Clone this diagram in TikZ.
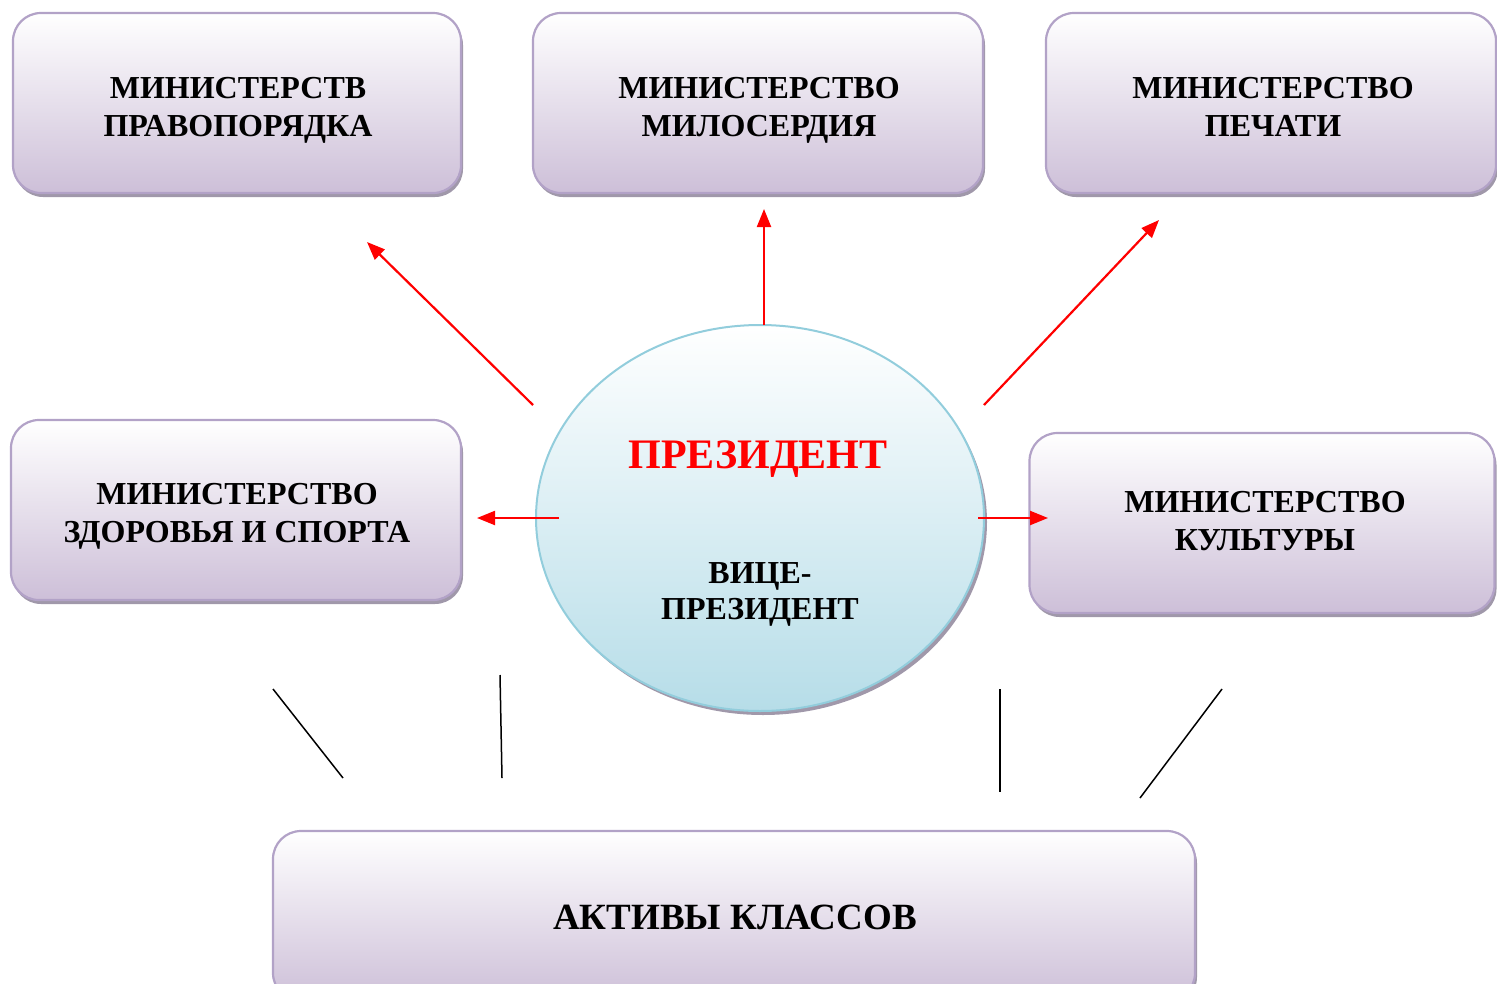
\documentclass[tikz,border=0pt]{standalone}
\usepackage{fontspec}
\setmainfont{Liberation Serif}
\usetikzlibrary{shapes.geometric,shadows,arrows.meta}
\definecolor{boxline}{RGB}{178,162,199}
\definecolor{boxbot}{RGB}{205,191,216}
\definecolor{boxshadow}{RGB}{160,152,170}
\definecolor{ellline}{RGB}{146,205,220}
\definecolor{ellbot}{RGB}{182,221,232}
\definecolor{presred}{RGB}{255,0,0}
\tikzset{
  ministry/.style={draw=boxline, line width=2.2pt, rounded corners=28pt,
    top color=white, bottom color=boxbot, inner sep=0pt,
    drop shadow={shadow xshift=2pt, shadow yshift=-4pt, opacity=1, fill=boxshadow}},
  presell/.style={ellipse, draw=ellline, line width=2pt, top color=white, bottom color=ellbot,
    inner sep=0pt, minimum width=448pt, minimum height=386pt,
    drop shadow={shadow xshift=3pt, shadow yshift=-4pt, opacity=1, fill=boxshadow}},
  redarrow/.style={draw=presred, line width=2.2pt, -{Triangle[length=18pt,width=14pt]}},
  blackline/.style={draw=black, line width=1.5pt},
  lbl/.style={align=center, inner sep=0pt, font=\bfseries\fontsize{32}{38}\selectfont}
}
\begin{document}
\begin{tikzpicture}[x=1pt,y=-1pt]
\useasboundingbox (0,0) rectangle (1497,983);
% boxes
\node[ministry, minimum width=448pt, minimum height=180pt] (b1) at (237,103) {};
\node[ministry, minimum width=450pt, minimum height=180pt] (b2) at (758,103) {};
\node[ministry, minimum width=450pt, minimum height=180pt] (b3) at (1271,103) {};
\node[ministry, minimum width=450pt, minimum height=180pt] (b4) at (236,510) {};
\node[ministry, minimum width=465pt, minimum height=180pt] (b5) at (1262,523) {};
\node[ministry, minimum width=922pt, minimum height=170pt] (b6) at (734,916) {};
\node[lbl] (t1) at (238,110) {МИНИСТЕРСТВ\\ПРАВОПОРЯДКА};
\node[lbl] (t2) at (759,110) {МИНИСТЕРСТВО\\МИЛОСЕРДИЯ};
\node[lbl] (t3) at (1273,107) {МИНИСТЕРСТВО\\ПЕЧАТИ};
\node[lbl] (t4) at (237,516) {МИНИСТЕРСТВО\\ЗДОРОВЬЯ И СПОРТА};
\node[lbl] (t5) at (1265,521) {МИНИСТЕРСТВО\\КУЛЬТУРЫ};
\node[lbl, font=\bfseries\fontsize{37}{42}\selectfont] (t6) at (735,917) {АКТИВЫ КЛАССОВ};
% president ellipse
\node[presell] (pres) at (760,518) {};
\node[lbl, text=presred, font=\bfseries\fontsize{42}{48}\selectfont] (prestxt) at (758,459) {ПРЕЗИДЕНТ};
\node[lbl, font=\bfseries\fontsize{32}{36}\selectfont] (vice) at (760,594) {ВИЦЕ-\\ПРЕЗИДЕНТ};
% arrow coordinates
\coordinate (a1s) at (533,405); \coordinate (a1e) at (367,242);
\coordinate (a2s) at (764,325); \coordinate (a2e) at (764,209);
\coordinate (a3s) at (984,405); \coordinate (a3e) at (1159,220);
\coordinate (a4s) at (559,518); \coordinate (a4e) at (477,518);
\coordinate (a5s) at (978,518); \coordinate (a5e) at (1048,518);
\draw[redarrow] (a1s) -- (a1e);
\draw[redarrow] (a2s) -- (a2e);
\draw[redarrow] (a3s) -- (a3e);
\draw[redarrow] (a4s) -- (a4e);
\draw[redarrow] (a5s) -- (a5e);
% black lines
\coordinate (l1s) at (273,689); \coordinate (l1e) at (343,778);
\coordinate (l2s) at (500,675); \coordinate (l2e) at (502,778);
\coordinate (l3s) at (1000,689); \coordinate (l3e) at (1000,792);
\coordinate (l4s) at (1222,689); \coordinate (l4e) at (1140,798);
\draw[blackline] (l1s) -- (l1e);
\draw[blackline] (l2s) -- (l2e);
\draw[blackline] (l3s) -- (l3e);
\draw[blackline] (l4s) -- (l4e);
\end{tikzpicture}
\end{document}
